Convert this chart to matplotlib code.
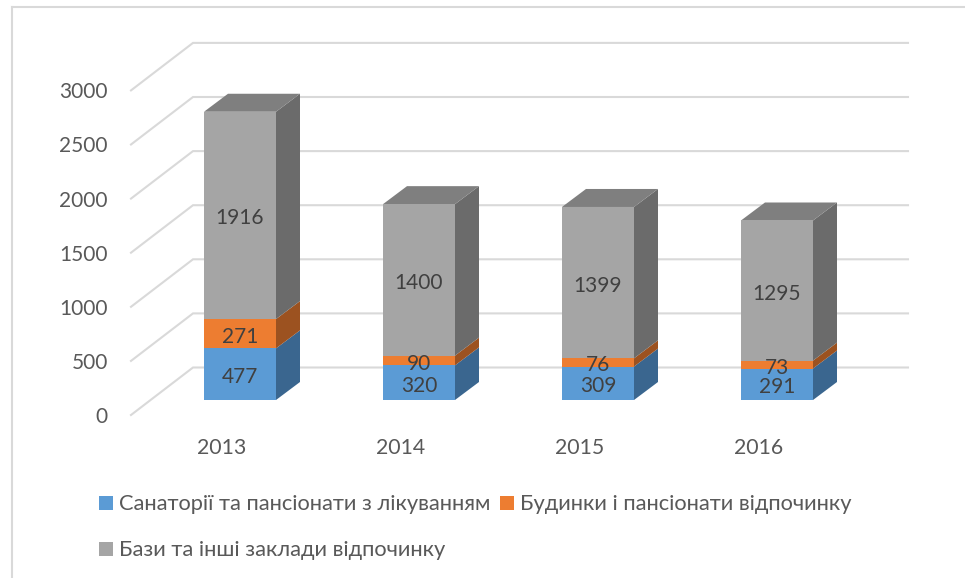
#!/usr/bin/env python3
# -*- coding: utf-8 -*-
import matplotlib
matplotlib.use('Agg')
import matplotlib.pyplot as plt
from matplotlib.patches import Polygon, Rectangle

# =============================================================================
# data
# =============================================================================
years = ['2013', '2014', '2015', '2016']
sanatoria = [477, 320, 309, 291]
budynky = [271, 90, 76, 73]
bazy = [1916, 1400, 1399, 1295]
y_ticks = [0, 500, 1000, 1500, 2000, 2500, 3000]
names = ['Санаторії та пансіонати з лікуванням',
         'Будинки і пансіонати відпочинку',
         'Бази та інші заклади відпочинку']

# =============================================================================
# style / layout (pixels of the 965x578 picture)
# =============================================================================
W, H = 965, 578
X0, X_STEP = 240, 179      # centre of first bar, distance between bars
Y0, Y_UNIT = 400, 0.1082   # floor of the front plane, px per value
BAR_W = 72
DX_PX, DY_PX = 24, 18      # depth of the bars
front = ['#5B9BD5', '#ED7D31', '#A5A5A5']
side = ['#3A668F', '#9C5220', '#6B6B6B']
top_col = '#7F7F7F'
grid_col = '#D9D9D9'
text_col = '#595959'
FONT = 'Lato'

plt.rcParams['font.family'] = [FONT, 'DejaVu Sans']

def px_x(p):
    return (p - X0) / X_STEP

def px_y(p):
    return (Y0 - p) / Y_UNIT

fig = plt.figure(figsize=(W / 100, H / 100), dpi=100, facecolor='white')
ax = fig.add_axes([0, 0, 1, 1])
ax.set_xlim(px_x(0), px_x(W))
ax.set_ylim(px_y(H), px_y(0))
ax.axis('off')

# outer chart border
ax.plot([px_x(12), px_x(12)], [px_y(H), px_y(7)], color=grid_col, lw=1.5)
ax.plot([px_x(12), px_x(W)], [px_y(7), px_y(7)], color=grid_col, lw=1.5)

# =============================================================================
# gridlines + ticks
# =============================================================================
dy_low = 15 / Y_UNIT
dy_back = 32.5 / Y_UNIT
for v in y_ticks:
    ax.plot([px_x(131), px_x(193), px_x(908)],
            [v - dy_low, v + dy_back, v + dy_back],
            color=grid_col, lw=1.5, solid_joinstyle='miter', zorder=1)
    ax.text(px_x(108), v - dy_low - 2 / Y_UNIT, str(v), ha='right', va='center',
            fontsize=15, color=text_col)

# =============================================================================
# bars
# =============================================================================
hw = BAR_W / 2 / X_STEP
dx = DX_PX / X_STEP
dy = DY_PX / Y_UNIT
for i, year in enumerate(years):
    bottom = 0
    for vals, fc, sc in zip([sanatoria, budynky, bazy], front, side):
        v = vals[i]
        l, r = i - hw, i + hw
        b, t = bottom, bottom + v
        ax.add_patch(Polygon([(r, b), (r + dx, b + dy), (r + dx, t + dy), (r, t)],
                             closed=True, fc=sc, ec='none', zorder=3))
        ax.add_patch(Rectangle((l, b), r - l, v, fc=fc, ec='none', zorder=4))
        ax.text(i, b + v / 2 - 3 / Y_UNIT, str(v), ha='center', va='center',
                fontsize=15, color='#404040', zorder=5)
        bottom = t
    ax.add_patch(Polygon([(i - hw, bottom), (i - hw + dx, bottom + dy),
                          (i + hw + dx, bottom + dy), (i + hw, bottom)],
                         closed=True, fc=top_col, ec='none', zorder=3))
    ax.text(i - 18 / X_STEP, px_y(448), year, ha='center', va='center',
            fontsize=15.3, color=text_col)

# =============================================================================
# legend
# =============================================================================
legend_pos = [(99, 503), (500, 503), (99, 549)]
for name, col, (lx, ly) in zip(names, front, legend_pos):
    ax.add_patch(Rectangle((px_x(lx), px_y(ly + 7)), 14 / X_STEP, 14 / Y_UNIT,
                           fc=col, ec='none'))
    ax.text(px_x(lx + 20), px_y(ly + 1), name, ha='left', va='center',
            fontsize=15.75, color=text_col)

fig.savefig('out.png', dpi=100, facecolor='white')
